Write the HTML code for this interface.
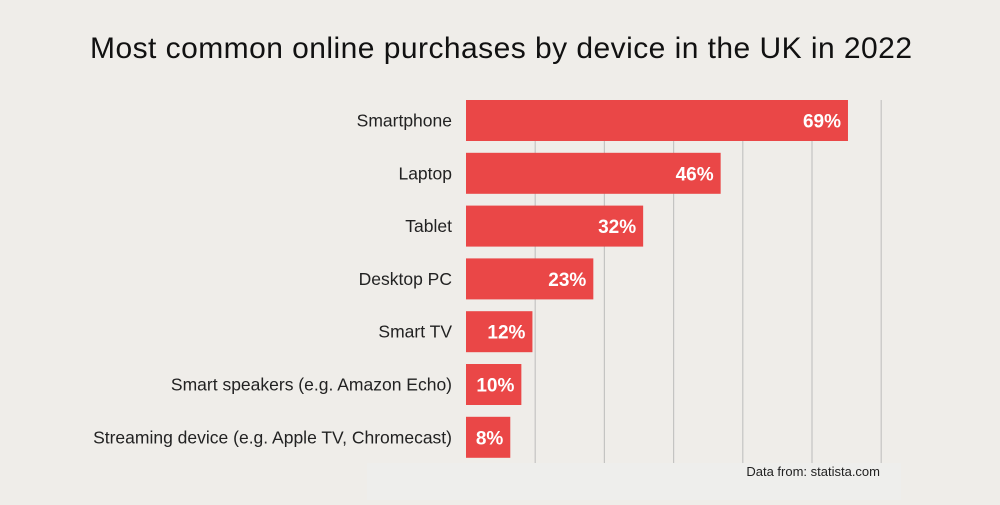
<!DOCTYPE html>
<html><head><meta charset="utf-8"><style>
body{margin:0;width:1000px;height:500px;background:#efede9;overflow:hidden;font-family:"Liberation Sans",sans-serif}
</style></head><body>
<svg width="1000" height="500">
<text x="501" y="58" text-anchor="middle" font-size="30" textLength="822" fill="#111">Most common online purchases by device in the UK in 2022</text>
<rect x="367" y="463" width="534" height="37" fill="#eeeeec"/>
<text x="880" y="476" text-anchor="end" font-size="13" fill="#222">Data from: statista.com</text>
<g id="grid"></g><g id="bars"></g>
</svg>
<script>
const categories=["Smartphone","Laptop","Tablet","Desktop PC","Smart TV","Smart speakers (e.g. Amazon Echo)","Streaming device (e.g. Apple TV, Chromecast)"];
const values=[69,46,32,23,12,10,8];
const gridTicks=[12.5,25,37.5,50,62.5,75];
const ns="http://www.w3.org/2000/svg";
const x0=466,scale=5.536,y0=100,pitch=52.8,bh=41;
const xs=v=>x0+v*scale;
const grid=document.getElementById('grid'),bars=document.getElementById('bars');
gridTicks.forEach(t=>{const l=document.createElementNS(ns,'line');
l.setAttribute('x1',xs(t));l.setAttribute('x2',xs(t));l.setAttribute('y1',100);l.setAttribute('y2',463);
l.setAttribute('stroke','#c4c4c2');l.setAttribute('stroke-width','1.2');


grid.appendChild(l);});
values.forEach((v,i)=>{const y=y0+i*pitch;
const r=document.createElementNS(ns,'rect');
r.setAttribute('x',x0);r.setAttribute('y',y);r.setAttribute('width',xs(v)-x0);r.setAttribute('height',bh);r.setAttribute('fill','#ea4747');


bars.appendChild(r);
const t=document.createElementNS(ns,'text');
t.setAttribute('x',xs(v)-7);t.setAttribute('y',y+bh/2+7);t.setAttribute('text-anchor','end');t.setAttribute('font-size','19');t.setAttribute('font-weight','bold');t.setAttribute('fill','#fff');
t.textContent=v+'%';


bars.appendChild(t);
const c=document.createElementNS(ns,'text');
c.setAttribute('x',452);c.setAttribute('y',y+bh/2+6);c.setAttribute('text-anchor','end');c.setAttribute('font-size','17.5');c.setAttribute('fill','#222');
c.textContent=categories[i];


bars.appendChild(c);});
</script>
</body></html>
